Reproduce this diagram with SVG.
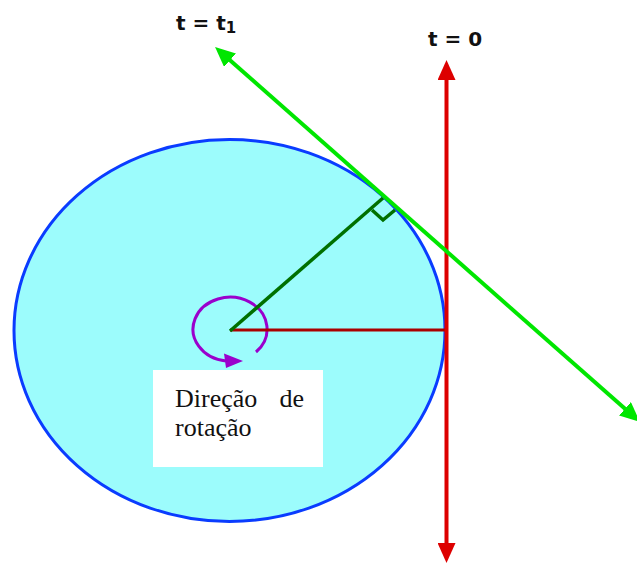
<svg xmlns="http://www.w3.org/2000/svg" width="637" height="565" viewBox="0 0 637 565">
<style>
.lbl{font-family:"DejaVu Sans","Liberation Sans",sans-serif;font-weight:bold;font-size:20px;fill:#111}
.cap{font-family:"Liberation Serif","Times New Roman",serif;font-size:26px;fill:#111}
.red{stroke:#dd0000;stroke-width:4;fill:none}
.grn{stroke:#00e600;stroke-width:4;fill:none}
.dgrn{stroke:#007000;stroke-width:3.5;fill:none}
</style>
<defs>
<marker id="ahRed" viewBox="0 0 20 18" refX="5" refY="9" markerWidth="20" markerHeight="18" markerUnits="userSpaceOnUse" orient="auto-start-reverse">
<path d="M0,0 L20,9 L0,18 z" fill="#dd0000"/>
</marker>
<marker id="ahGrn" viewBox="0 0 20 18" refX="5" refY="9" markerWidth="20" markerHeight="18" markerUnits="userSpaceOnUse" orient="auto-start-reverse">
<path d="M0,0 L20,9 L0,18 z" fill="#00e600"/>
</marker>
</defs>
<rect width="637" height="565" fill="#ffffff"/>
<g id="disk">
<ellipse cx="229.5" cy="330.5" rx="215.5" ry="191" fill="#9cfcfc" stroke="#0a3cff" stroke-width="3"/>
</g>
<g id="rotation">
<path d="M256,352 A37 32 0 1 0 226,361" fill="none" stroke="#9a00cc" stroke-width="3"/>
<polygon points="243,361 224,353.5 226,368" fill="#9a00cc"/>
</g>
<g id="connectors">
<line x1="230" y1="330" x2="446" y2="330" stroke="#aa0000" stroke-width="3"/>
<line class="dgrn" x1="230" y1="331" x2="383" y2="198"/>
<polyline class="dgrn" points="372,210 383,220 395,210"/>
<line class="red" x1="446.5" y1="75" x2="446.5" y2="548" marker-start="url(#ahRed)" marker-end="url(#ahRed)"/>
<line class="grn" x1="226.3" y1="56.9" x2="628.7" y2="412.1" marker-start="url(#ahGrn)" marker-end="url(#ahGrn)"/>
</g>
<g id="label-t1">
<text class="lbl" x="176" y="30">t = t<tspan font-size="15" dy="3">1</tspan></text>
</g>
<g id="label-t0">
<text class="lbl" x="428" y="46">t = 0</text>
</g>
<g id="caption">
<rect x="153" y="370" width="170" height="97" fill="#ffffff"/>
<text class="cap" x="175" y="406.5">Direção</text>
<text class="cap" x="304" y="406.5" text-anchor="end">de</text>
<text class="cap" x="175" y="436">rotação</text>
</g>
</svg>
